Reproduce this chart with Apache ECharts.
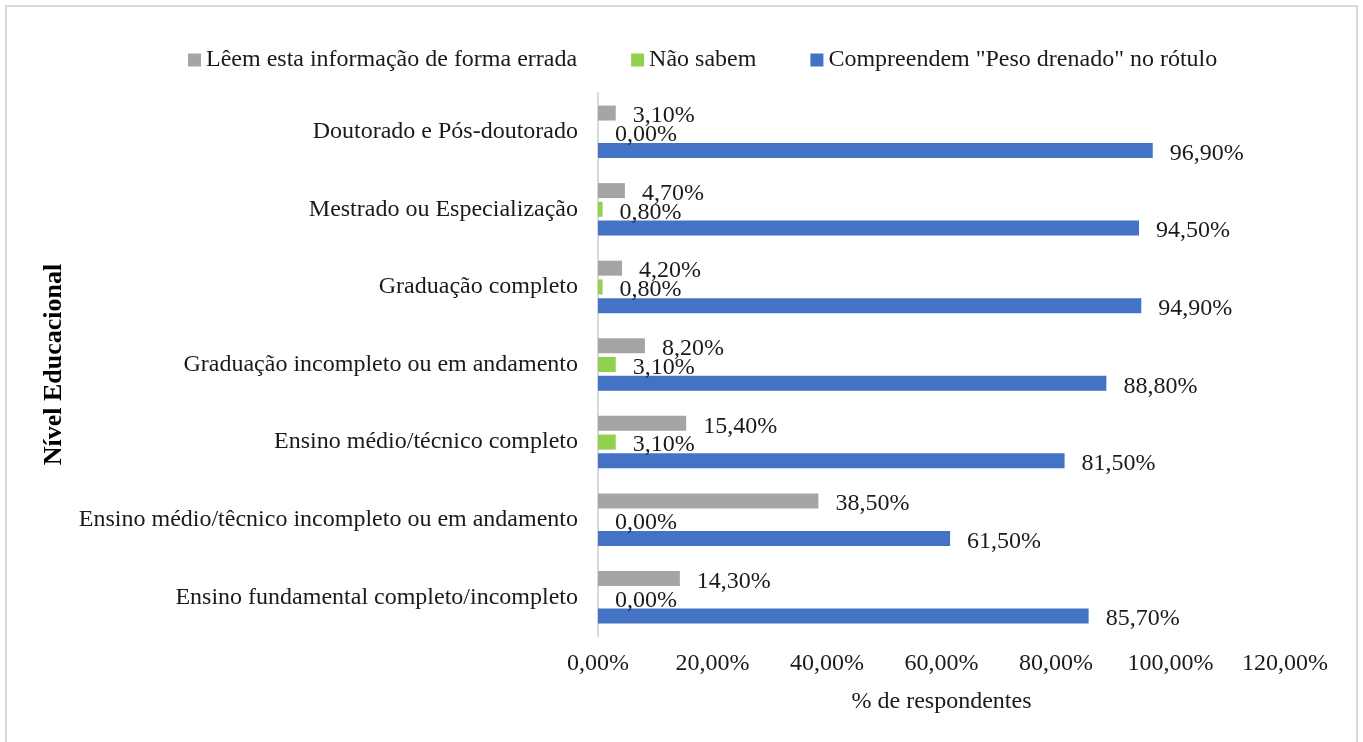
<!DOCTYPE html>
<html>
<head>
<meta charset="utf-8">
<script src="https://cdn.jsdelivr.net/npm/echarts@6/dist/echarts.min.js"></script>
<style>
  html, body { margin: 0; padding: 0; background: #fff; }
  #chart { width: 1363px; height: 742px; }
</style>
</head>
<body>
<div id="chart"></div>
<script>
// categories, top to bottom as in the picture
const categories = [
  'Doutorado e Pós-doutorado',
  'Mestrado ou Especialização',
  'Graduação completo',
  'Graduação incompleto ou em andamento',
  'Ensino médio/técnico completo',
  'Ensino médio/têcnico incompleto ou em andamento',
  'Ensino fundamental completo/incompleto'
];
const seriesNames = [
  'Lêem esta informação de forma errada',
  'Não sabem',
  'Compreendem "Peso drenado" no rótulo'
];
// values in %
const leemErrado = [3.1, 4.7, 4.2, 8.2, 15.4, 38.5, 14.3];
const naoSabem = [0.0, 0.8, 0.8, 3.1, 3.1, 0.0, 0.0];
const compreendem = [96.9, 94.5, 94.9, 88.8, 81.5, 61.5, 85.7];
const colors = ['#a5a5a5', '#92d050', '#4472c4'];

const FONT = '"Liberation Serif", "Times New Roman", serif';
const fmt = v => v.toFixed(2).replace('.', ',') + '%';

const chart = echarts.init(document.getElementById('chart'));

const makeSeries = (name, data, color) => ({
  name: name,
  type: 'bar',
  data: data,
  barWidth: 15,
  barGap: '25%',
  barCategoryGap: '32%',
  itemStyle: { color: color },
  label: {
    show: true,
    position: 'right',
    distance: 17,
    offset: [0, 3],
    formatter: p => fmt(p.value),
    fontFamily: FONT,
    fontSize: 24,
    color: '#1a1a1a'
  }
});

const option = {
  backgroundColor: '#fff',
  animation: false,
  textStyle: { fontFamily: FONT },
  graphic: [{
    type: 'rect',
    shape: { x: 6, y: 6, width: 1351, height: 740 },
    style: { fill: 'none', stroke: '#d9d9d9', lineWidth: 2 }
  }],
  legend: {
    top: 43,
    left: 183,
    itemWidth: 13,
    itemHeight: 13,
    itemGap: 54,
    icon: 'rect',
    data: seriesNames,
    textStyle: { fontFamily: FONT, fontSize: 24, color: '#1a1a1a' }
  },
  grid: { left: 598, right: 78, top: 93, bottom: 106 },
  xAxis: {
    type: 'value',
    min: 0,
    max: 120,
    interval: 20,
    name: '% de respondentes',
    nameLocation: 'middle',
    nameGap: 54,
    nameTextStyle: { fontFamily: FONT, fontSize: 24, color: '#1a1a1a' },
    axisLine: { show: false },
    axisTick: { show: false },
    splitLine: { show: false },
    axisLabel: {
      formatter: fmt,
      margin: 16,
      fontFamily: FONT,
      fontSize: 24,
      color: '#1a1a1a'
    }
  },
  yAxis: {
    type: 'category',
    inverse: true,
    data: categories,
    name: 'Nível Educacional',
    nameLocation: 'middle',
    nameGap: 531,
    nameRotate: 90,
    nameTextStyle: { fontFamily: FONT, fontSize: 26, fontWeight: 'bold', color: '#000' },
    axisLine: { show: true, lineStyle: { color: '#d9d9d9', width: 2 } },
    axisTick: { show: false },
    axisLabel: {
      margin: 20,
      fontFamily: FONT,
      fontSize: 24,
      color: '#1a1a1a'
    }
  },
  series: [
    makeSeries(seriesNames[0], leemErrado, colors[0]),
    makeSeries(seriesNames[1], naoSabem, colors[1]),
    makeSeries(seriesNames[2], compreendem, colors[2])
  ]
};

chart.setOption(option);
window.addEventListener('resize', () => chart.resize());
</script>
</body>
</html>
